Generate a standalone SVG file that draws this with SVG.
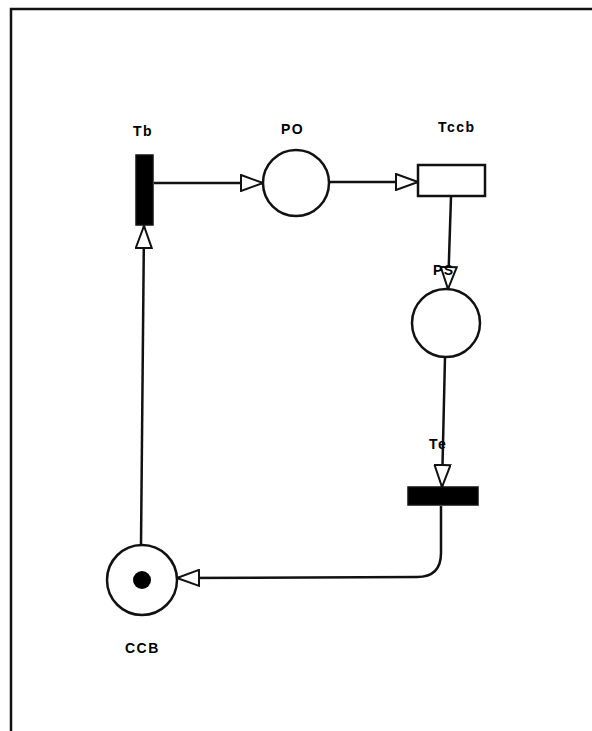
<svg xmlns="http://www.w3.org/2000/svg" width="592" height="731" viewBox="0 0 592 731">
<style>
.arc{fill:none;stroke:#111;stroke-width:2.5}
.place{fill:#fff;stroke:#111;stroke-width:2.5}
.bar{fill:#000;stroke:#111;stroke-width:1.5}
.lbl{font-family:"Liberation Sans",Arial,sans-serif;font-size:14px;font-weight:bold;letter-spacing:1.5px;fill:#000}
</style>
<defs>
<marker id="ah" viewBox="0 0 24 18" refX="23" refY="9" markerWidth="24" markerHeight="18" markerUnits="userSpaceOnUse" orient="auto">
<path d="M1,1 L23,9 L1,17 Z" fill="#fff" stroke="#111" stroke-width="2"/>
</marker>
</defs>
<rect x="0" y="0" width="592" height="731" fill="#fff"/>
<path d="M11,740 L11,9 L600,9" fill="none" stroke="#111" stroke-width="2.5"/>
<g id="connectors">
<line class="arc" x1="154" y1="183" x2="263" y2="183" marker-end="url(#ah)"/>
<line class="arc" x1="329" y1="182" x2="418" y2="182" marker-end="url(#ah)"/>
<line class="arc" x1="451" y1="197" x2="448" y2="289" marker-end="url(#ah)"/>
<line class="arc" x1="445" y1="357" x2="442" y2="487" marker-end="url(#ah)"/>
<path class="arc" d="M441,506 L441,553 Q441,577 417,577 L177,578" marker-end="url(#ah)"/>
<line class="arc" x1="141" y1="545" x2="144" y2="226" marker-end="url(#ah)"/>
</g>
<g id="Tb">
<rect class="bar" x="136" y="155" width="17" height="70"/>
<text class="lbl" x="133" y="136">Tb</text>
</g>
<g id="PO">
<circle class="place" cx="296" cy="183" r="33"/>
<text class="lbl" x="281" y="134">PO</text>
</g>
<g id="Tccb">
<rect x="418" y="165" width="67" height="31" fill="#fff" stroke="#111" stroke-width="2.5"/>
<text class="lbl" x="438" y="132">Tccb</text>
</g>
<g id="PS">
<circle class="place" cx="446" cy="323" r="34"/>
<text class="lbl" x="433" y="275">PS</text>
</g>
<g id="Te">
<rect class="bar" x="408" y="487" width="70" height="18"/>
<text class="lbl" x="429" y="449">Te</text>
</g>
<g id="CCB">
<circle class="place" cx="142" cy="580" r="35"/>
<circle cx="142" cy="580" r="9" fill="#000"/>
<text class="lbl" x="125" y="653">CCB</text>
</g>
</svg>
